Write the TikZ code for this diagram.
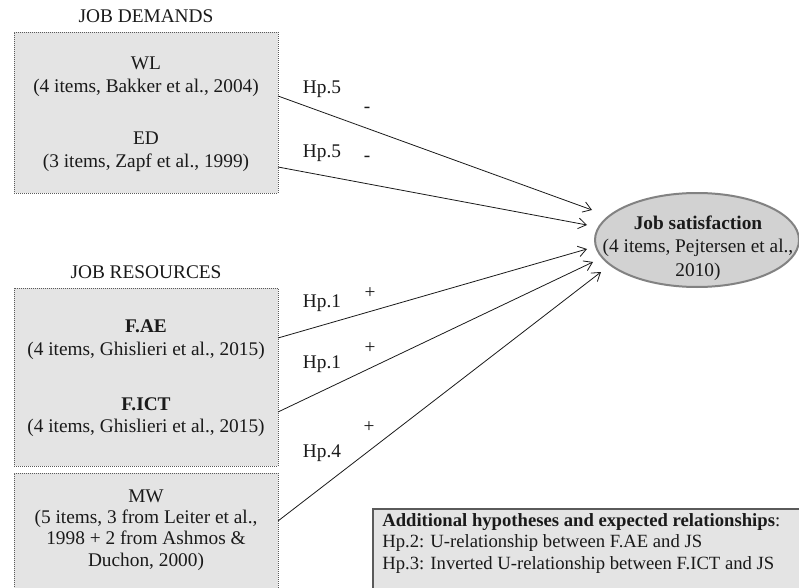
\documentclass[tikz,border=0pt]{standalone}
\usepackage{fontspec}
\setmainfont{Liberation Serif}
\usetikzlibrary{shapes.geometric,arrows.meta}
\definecolor{boxgray}{HTML}{E4E4E4}
\definecolor{ellgray}{HTML}{D2D2D2}
\definecolor{ellline}{HTML}{828282}
\definecolor{txt}{HTML}{1A1A1A}
\definecolor{dotline}{HTML}{5A5A5A}
\begin{document}
\begin{tikzpicture}[x=0.75pt,y=-0.75pt,
  groupbox/.style={rectangle, draw=dotline, dash pattern=on 0.75pt off 0.75pt, line width=0.6pt, fill=boxgray, inner sep=0pt},
  itemtext/.style={align=center, font=\fontsize{14.5}{17}\selectfont, text=txt, inner sep=0pt},
  header/.style={font=\fontsize{14.5}{17}\selectfont, text=txt, inner sep=0pt},
  hplabel/.style={font=\fontsize{14.5}{17}\selectfont, text=txt, inner sep=0pt},
  conn/.style={-{Straight Barb[length=6pt,width=8pt]}, line width=0.6pt, draw=txt}]
\clip (0,0) rectangle (799,588);
\fill[white] (0,0) rectangle (799,588);

% group headers
\node[header] (hdem) at (146,16) {JOB DEMANDS};
\node[header] (hres) at (146,272) {JOB RESOURCES};

% boxes
\node[groupbox, minimum width=198pt, minimum height=120.75pt] (dem) at (146,112.5) {};
\node[groupbox, minimum width=198pt, minimum height=133.5pt] (res) at (146,377) {};
\node[groupbox, minimum width=198pt, minimum height=102.75pt] (mwbox) at (146,541.5) {};

% item texts
\node[itemtext] (wl) at (146,77) {WL\\(4 items, Bakker et al., 2004)};
\node[itemtext] (ed) at (146,152) {ED\\(3 items, Zapf et al., 1999)};
\node[itemtext] (fae) at (146,340) {\textbf{F.AE}\\(4 items, Ghislieri et al., 2015)};
\node[itemtext] (fict) at (146,417) {\textbf{F.ICT}\\(4 items, Ghislieri et al., 2015)};
\node[itemtext, font=\fontsize{14.5}{16}\selectfont] (mw) at (146,530) {MW\\(5 items, 3 from Leiter et al.,\\1998 + 2 from Ashmos \&\\Duchon, 2000)};

% outcome ellipse
\node[ellipse, draw=ellline, line width=1.5pt, fill=ellgray, minimum width=153pt, minimum height=70.5pt, inner sep=0pt] (js) at (697,240) {};
\node[itemtext, font=\fontsize{14.5}{17.5}\selectfont] (jstext) at (698,248) {\textbf{Job satisfaction}\\(4 items, Pejtersen et al.,\\2010)};

% additional hypotheses box
\node[rectangle, fill=boxgray, draw=dotline, line width=1.2pt, minimum width=335.25pt, minimum height=68.25pt, inner sep=0pt] (addbox) at (596.5,554.5) {};
\node[align=left, anchor=west, font=\fontsize{14}{16.3}\selectfont, text=txt, inner sep=0pt] (addtext) at (382,543.5)
 {\textbf{Additional hypotheses and expected relationships}:\\Hp.2: U-relationship between F.AE and JS\\Hp.3: Inverted U-relationship between F.ICT and JS};

% connector end points
\coordinate (s1) at (278,96);
\coordinate (s2) at (278,167);
\coordinate (s3) at (278,338);
\coordinate (s4) at (278,412);
\coordinate (s5) at (278,521);
\coordinate (e1) at (592,210);
\coordinate (e2) at (587,225);
\coordinate (e3) at (587,249);
\coordinate (e4) at (593,262);
\coordinate (e5) at (601,272);

\draw[conn] (s1) -- (e1);
\draw[conn] (s2) -- (e2);
\draw[conn] (s3) -- (e3);
\draw[conn] (s4) -- (e4);
\draw[conn] (s5) -- (e5);

% hypothesis labels
\node[hplabel] (h5a) at (322,89) {Hp.5};
\node[hplabel] (m1) at (367,110) {-};
\node[hplabel] (h5b) at (322,153) {Hp.5};
\node[hplabel] (m2) at (367,159) {-};
\node[hplabel] (h1a) at (322,303) {Hp.1};
\node[hplabel] (p1) at (370,293) {+};
\node[hplabel] (h1b) at (322,364) {Hp.1};
\node[hplabel] (p2) at (370,348) {+};
\node[hplabel] (h4) at (322,453) {Hp.4};
\node[hplabel] (p3) at (369,427) {+};
\end{tikzpicture}
\end{document}
